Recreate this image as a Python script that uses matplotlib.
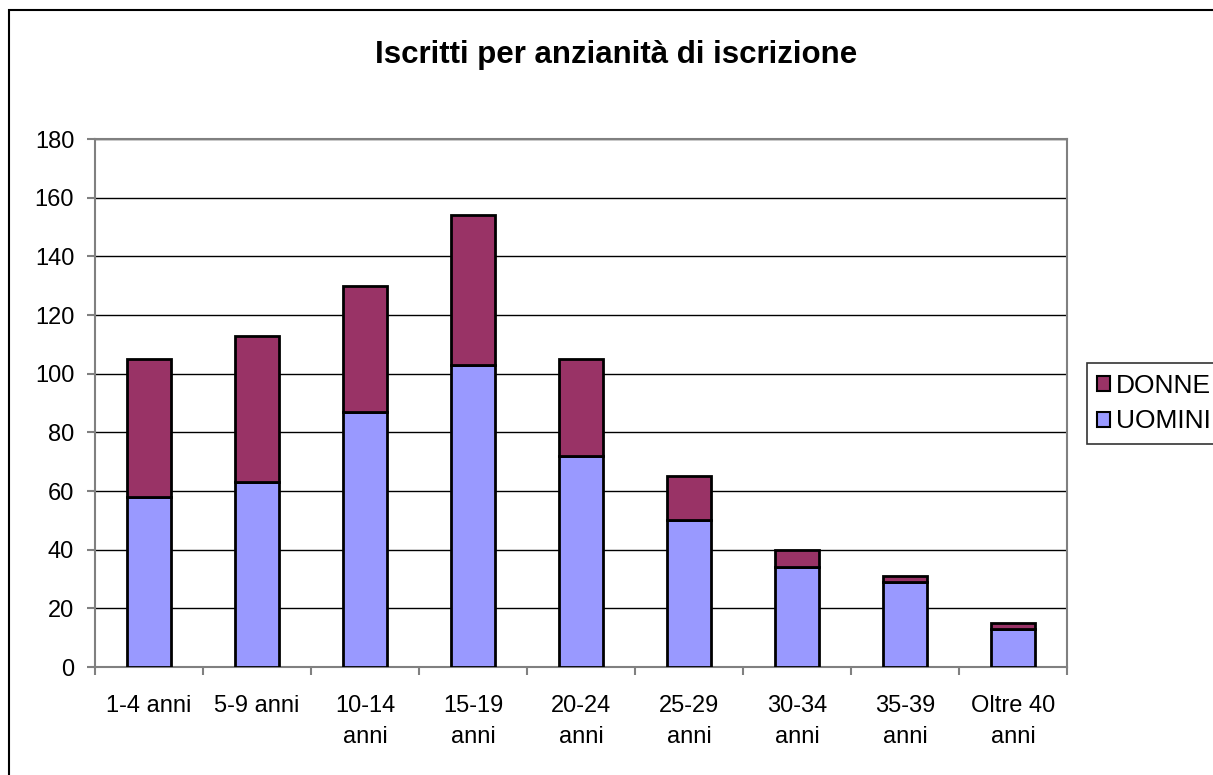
import matplotlib
matplotlib.use("Agg")
import matplotlib.pyplot as plt
from matplotlib.patches import Rectangle
import numpy as np

plt.rcParams['font.family'] = ['Liberation Sans', 'DejaVu Sans']

categories = ["1-4 anni", "5-9 anni", "10-14\nanni", "15-19\nanni", "20-24\nanni",
              "25-29\nanni", "30-34\nanni", "35-39\nanni", "Oltre 40\nanni"]
uomini = [58, 63, 87, 103, 72, 50, 34, 29, 13]
donne = [47, 50, 43, 51, 33, 15, 6, 2, 2]
title = "Iscritti per anzianità di iscrizione"

W, H = 1213, 775
fig = plt.figure(figsize=(W / 100, H / 100), dpi=100)
fig.patch.set_facecolor('white')

# outer frame (right and bottom edges fall outside the picture)
fig.patches.append(Rectangle((9 / W, -0.05), 1.0, 1.05 - 10 / H,
                             transform=fig.transFigure, fill=False,
                             edgecolor='black', linewidth=1.5))

ax = fig.add_axes([95 / W, (H - 667) / H, (1067 - 95) / W, (667 - 139) / H])
x = np.arange(len(categories))
bw = 0.41
ax.bar(x, uomini, bw, color='#9999FF', edgecolor='black', linewidth=2.0,
       label='UOMINI', zorder=3)
ax.bar(x, donne, bw, bottom=uomini, color='#993366', edgecolor='black',
       linewidth=2.0, label='DONNE', zorder=3)

ax.set_xlim(-0.5, len(categories) - 0.5)
ax.set_ylim(0, 180)
ax.set_yticks(np.arange(0, 181, 20))
ax.yaxis.grid(True, color='black', linewidth=1.0, zorder=0)
ax.set_axisbelow(True)
for s in ax.spines.values():
    s.set_color('#808080')
    s.set_linewidth(1.5)
ax.set_xticks(x)
ax.set_xticklabels(categories, fontsize=17, linespacing=1.53)
ax.set_xticks(np.arange(-0.5, len(categories), 1), minor=True)
ax.tick_params(axis='x', which='major', length=0, pad=20.5)
ax.tick_params(axis='x', which='minor', length=6, width=1.5, color='#808080')
ax.tick_params(axis='y', length=6, width=1.5, color='#808080', labelsize=17, pad=9)

fig.text(0.508, 1 - 55 / H, title, ha='center', va='center', fontsize=22.5,
         fontweight='bold')

handles, labels = ax.get_legend_handles_labels()
leg = fig.legend(handles[::-1], labels[::-1], loc='center left',
                 bbox_to_anchor=(1086.5 / W, (H - 403.5) / H), fontsize=19,
                 frameon=True, fancybox=False, edgecolor='black',
                 handlelength=0.5, handleheight=0.5, handletextpad=0.2,
                 borderpad=0.4, labelspacing=0.45, borderaxespad=0)
leg.get_frame().set_linewidth(1.2)
for h in leg.legend_handles:
    h.set_linewidth(1.5)

fig.savefig('out.png', dpi=100)
